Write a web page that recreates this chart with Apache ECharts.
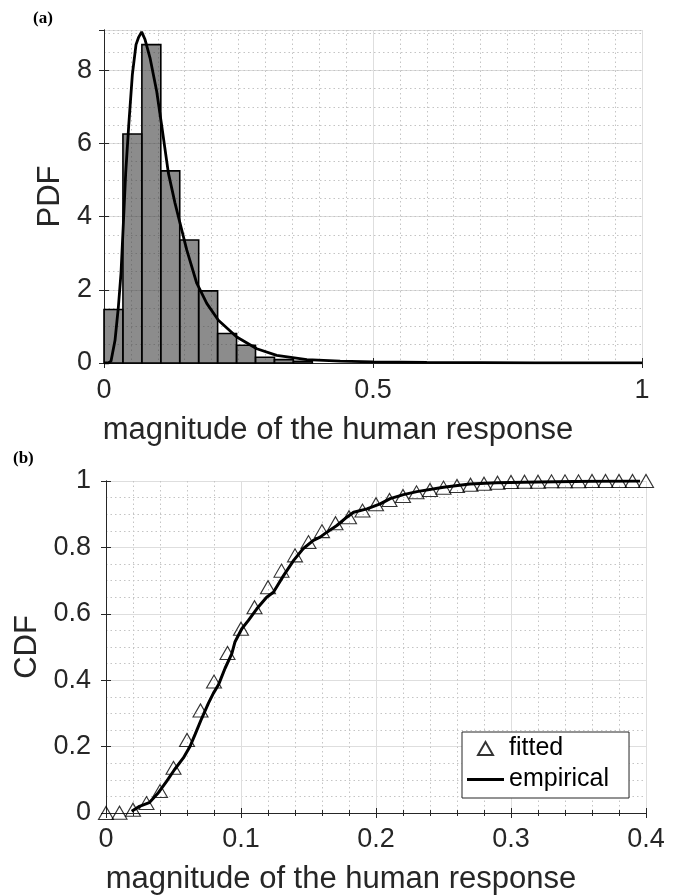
<!DOCTYPE html>
<html>
<head>
<meta charset="utf-8">
<script src="https://cdn.jsdelivr.net/npm/echarts@6/dist/echarts.min.js"></script>
<style>
  html, body { margin: 0; padding: 0; background: #fff; }
  #chart { width: 685px; height: 896px; }
</style>
</head>
<body>
<div id="chart"></div>
<script>
// (a) histogram of the magnitude, normalised as a pdf
const binEdges = [0, 0.0352, 0.0704, 0.1056, 0.1408, 0.176, 0.2112, 0.2464, 0.2816, 0.3168, 0.352, 0.3872];
const binHeights = [1.46, 6.26, 8.70, 5.25, 3.36, 1.97, 0.805, 0.485, 0.156, 0.093, 0.047];

// (a) fitted pdf curve
const pdfX = [0, 0.008, 0.013, 0.0205, 0.0267, 0.0316, 0.036, 0.0403, 0.046, 0.0527, 0.0595, 0.064, 0.070,
  0.0763, 0.0855, 0.098, 0.107, 0.1197, 0.132, 0.1413, 0.1538, 0.1724, 0.191, 0.2126, 0.2468, 0.284,
  0.321, 0.377, 0.439, 0.5, 0.6, 0.7, 0.8, 0.9, 1.0];
const pdfY = [0, 0, 0.05, 0.62, 1.53, 2.45, 3.82, 5.19, 6.5, 7.88, 8.70, 8.89, 9.05,
  8.84, 8.34, 7.42, 6.51, 5.19, 4.37, 3.82, 3.09, 2.18, 1.63, 1.17, 0.71, 0.39,
  0.21, 0.09, 0.05, 0.03, 0.015, 0.01, 0.005, 0.003, 0.002];

// (b) fitted cdf (triangles)
const fitX = [0, 0.01, 0.02, 0.03, 0.04, 0.05, 0.06, 0.07, 0.08, 0.09, 0.10, 0.11, 0.12, 0.13, 0.14,
  0.15, 0.16, 0.17, 0.18, 0.19, 0.20, 0.21, 0.22, 0.23, 0.24, 0.25, 0.26, 0.27, 0.28, 0.29, 0.30,
  0.31, 0.32, 0.33, 0.34, 0.35, 0.36, 0.37, 0.38, 0.39, 0.40];
const fitY = [0, 0.001, 0.01, 0.03, 0.066, 0.136, 0.22, 0.309, 0.396, 0.482, 0.555, 0.62, 0.68, 0.73, 0.776,
  0.816, 0.849, 0.873, 0.891, 0.911, 0.93, 0.943, 0.955, 0.966, 0.973, 0.98, 0.985, 0.989, 0.992, 0.995, 0.997,
  0.998, 0.998, 0.999, 0.999, 0.999, 1, 1, 1, 1, 1];

// (b) empirical cdf
const empX = [0.019, 0.0248, 0.032, 0.0388, 0.045, 0.0508, 0.0573, 0.0623, 0.066, 0.071, 0.0759, 0.0796,
  0.0833, 0.0882, 0.0932, 0.0956, 0.1006, 0.1055, 0.1117, 0.119, 0.124, 0.1315, 0.139, 0.146, 0.1536,
  0.1586, 0.1636, 0.171, 0.1784, 0.1834, 0.1933, 0.2031, 0.2105, 0.2204, 0.2303, 0.25, 0.2695, 0.289,
  0.32, 0.36, 0.3956];
const empY = [0.005, 0.02, 0.031, 0.061, 0.096, 0.131, 0.166, 0.201, 0.237, 0.286, 0.331, 0.361,
  0.386, 0.436, 0.48, 0.516, 0.555, 0.58, 0.615, 0.65, 0.665, 0.715, 0.761, 0.796, 0.821,
  0.831, 0.846, 0.866, 0.891, 0.906, 0.916, 0.931, 0.947, 0.959, 0.968, 0.981, 0.991, 0.995,
  0.997, 0.999, 1.0];

const FONT = 'Liberation Sans';
const TXT = '#262626';
const TRI = 'path://M0,13 L7.5,0 L15,13 Z';
const LINE_ICON = 'path://M0,0 L37,0 L37,3 L0,3 Z';
const majorGrid = { show: true, lineStyle: { color: '#dedede', width: 1 } };
const minorGrid = { show: true, lineStyle: { color: '#c4c4c4', width: 1, type: [1.5, 3] } };
const axLine = { show: true, lineStyle: { color: TXT, width: 1 } };
const tickIn = { show: true, inside: true, length: 5, lineStyle: { color: TXT } };

let chart = echarts.init(document.getElementById('chart'));

let histData = binHeights.map((h, i) => [binEdges[i], binEdges[i + 1], h]);
let pdfData = pdfX.map((x, i) => [x, pdfY[i]]);
let fitData = fitX.map((x, i) => [x, fitY[i]]);
let empData = empX.map((x, i) => [x, empY[i]]);

let option = {
  animation: false,
  backgroundColor: '#fff',
  textStyle: { fontFamily: FONT },
  grid: [
    { left: 104, top: 30, width: 538, height: 333 },
    { left: 106, top: 481, width: 540, height: 334 }
  ],
  graphic: [
    { type: 'text', left: 33, top: 10, style: { text: '(a)', font: 'bold 17px "Liberation Serif"', fill: '#000' } },
    { type: 'text', left: 13, top: 450, style: { text: '(b)', font: 'bold 17px "Liberation Serif"', fill: '#000' } }
  ],
  legend: {
    data: [
      { name: 'fitted', icon: TRI },
      { name: 'empirical', icon: LINE_ICON }
    ],
    orient: 'vertical',
    left: 462, top: 732,
    itemWidth: 37, itemHeight: 13, itemGap: 6,
    padding: [4, 20, 6, 5],
    borderColor: TXT, borderWidth: 1, backgroundColor: '#fff',
    symbolKeepAspect: true,
    textStyle: { fontSize: 25, color: '#000', fontFamily: FONT }
  },
  xAxis: [
    {
      gridIndex: 0, type: 'value', position: 'bottom', min: 0, max: 1, interval: 0.5,
      axisLine: axLine, axisTick: tickIn,
      axisLabel: { fontSize: 27, color: TXT, margin: 14 },
      splitLine: majorGrid,
      minorSplitLine: minorGrid, minorTick: { show: false, splitNumber: 10 },
      name: 'magnitude of the human response', nameLocation: 'middle', nameGap: 52,
      nameTextStyle: { fontSize: 31, color: TXT, padding: [0, 70, 0, 0] }
    },
    {
      gridIndex: 0, type: 'value', position: 'top', min: 0, max: 1, interval: 0.5,
      axisLine: axLine, axisTick: tickIn, axisLabel: { show: false }, splitLine: { show: false }
    },
    {
      gridIndex: 1, type: 'value', position: 'bottom', min: 0, max: 0.4, interval: 0.1,
      axisLine: axLine, axisTick: tickIn,
      minorTick: { show: true, splitNumber: 5, length: 3, lineStyle: { color: TXT } },
      axisLabel: { fontSize: 27, color: TXT, margin: 13 },
      splitLine: majorGrid, minorSplitLine: minorGrid,
      name: 'magnitude of the human response', nameLocation: 'middle', nameGap: 51,
      nameTextStyle: { fontSize: 31, color: TXT, padding: [0, 70, 0, 0] }
    },
    {
      gridIndex: 1, type: 'value', position: 'top', min: 0, max: 0.4, interval: 0.1,
      axisLine: axLine, axisTick: tickIn,
      minorTick: { show: true, splitNumber: 5, length: 3, lineStyle: { color: TXT } },
      axisLabel: { show: false }, splitLine: { show: false }
    }
  ],
  yAxis: [
    {
      gridIndex: 0, type: 'value', position: 'left', min: 0, max: 9.1, interval: 2,
      axisLine: axLine, axisTick: tickIn,
      axisLabel: { fontSize: 27, color: TXT, margin: 12, showMaxLabel: false },
      splitLine: majorGrid,
      name: 'PDF', nameLocation: 'middle', nameGap: 33,
      nameTextStyle: { fontSize: 31, color: TXT }
    },
    {
      gridIndex: 0, type: 'value', position: 'right', min: 0, max: 9.1, interval: 2,
      axisLine: axLine, axisTick: tickIn, axisLabel: { show: false }, splitLine: { show: false }
    },
    {
      // dotted minor grid of (a) every 0.5
      gridIndex: 0, type: 'value', position: 'left', min: 0, max: 9.1, interval: 0.5,
      axisLine: { show: false }, axisTick: { show: false }, axisLabel: { show: false },
      splitLine: minorGrid
    },
    {
      gridIndex: 1, type: 'value', position: 'left', min: 0, max: 1, interval: 0.2,
      axisLine: axLine, axisTick: tickIn,
      axisLabel: { fontSize: 27, color: TXT, margin: 15 },
      splitLine: majorGrid, minorSplitLine: minorGrid, minorTick: { show: false, splitNumber: 4 },
      name: 'CDF', nameLocation: 'middle', nameGap: 62,
      nameTextStyle: { fontSize: 31, color: TXT }
    },
    {
      gridIndex: 1, type: 'value', position: 'right', min: 0, max: 1, interval: 0.2,
      axisLine: axLine, axisTick: tickIn, axisLabel: { show: false }, splitLine: { show: false }
    }
  ],
  series: [
    {
      name: 'hist', type: 'custom', xAxisIndex: 0, yAxisIndex: 0,
      data: histData,
      encode: { x: [0, 1], y: 2 },
      renderItem: function (params, api) {
        let p0 = api.coord([api.value(0), api.value(2)]);
        let p1 = api.coord([api.value(1), 0]);
        return {
          type: 'rect',
          shape: { x: p0[0], y: p0[1], width: p1[0] - p0[0], height: p1[1] - p0[1] },
          style: { fill: 'rgba(64,64,64,0.6)', stroke: '#000', lineWidth: 1.6 }
        };
      }
    },
    {
      name: 'pdf', type: 'line', xAxisIndex: 0, yAxisIndex: 0,
      data: pdfData, symbol: 'none', showSymbol: false,
      lineStyle: { color: '#000', width: 2.8 }, z: 3
    },
    {
      name: 'fitted', type: 'scatter', xAxisIndex: 2, yAxisIndex: 3,
      data: fitData, symbol: TRI, symbolSize: [15, 13],
      itemStyle: { color: 'rgba(0,0,0,0)', borderColor: '#000', borderWidth: 1.1 }, z: 2
    },
    {
      name: 'empirical', type: 'line', xAxisIndex: 2, yAxisIndex: 3,
      data: empData, symbol: 'none', showSymbol: false,
      itemStyle: { color: '#000' },
      lineStyle: { color: '#000', width: 3 }, z: 3
    }
  ]
};

option && chart.setOption(option);
</script>
</body>
</html>
